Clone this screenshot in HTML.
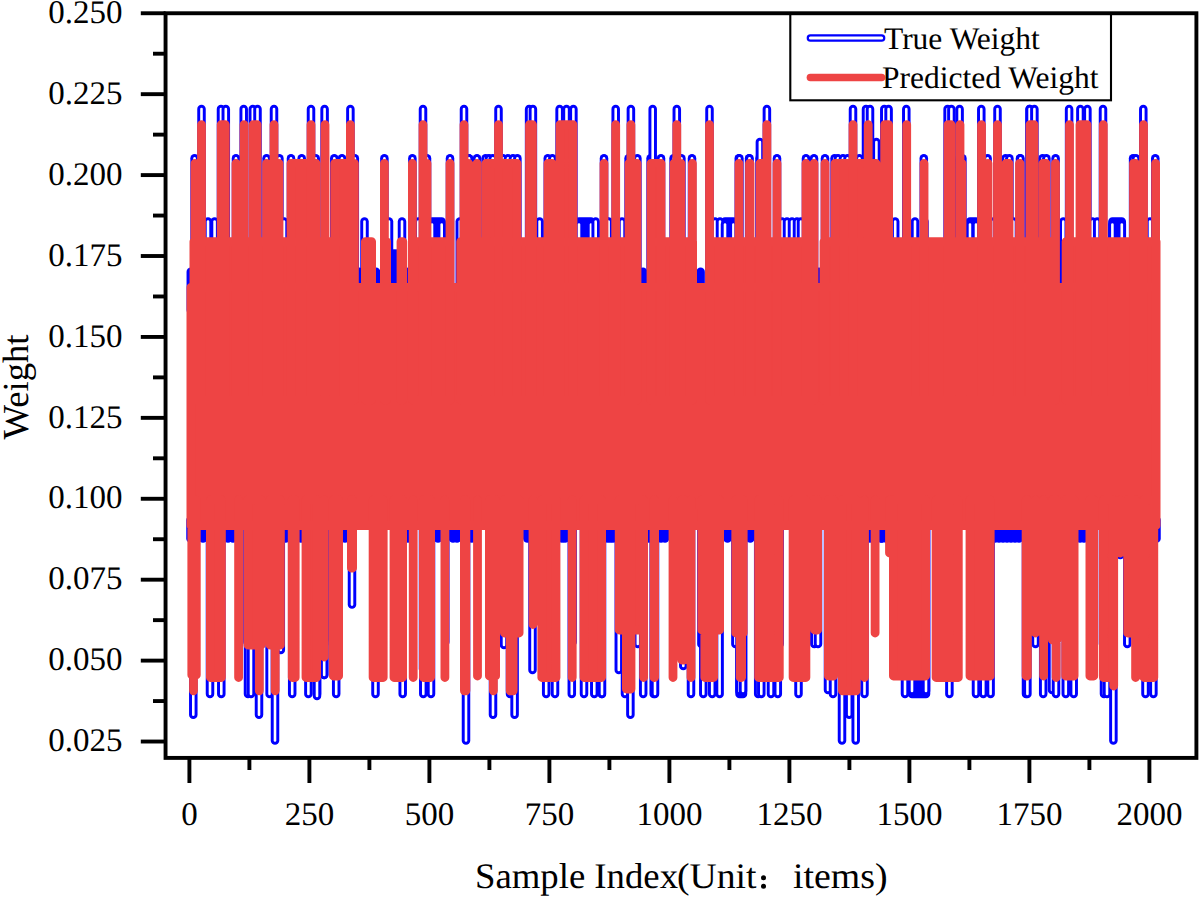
<!DOCTYPE html>
<html><head><meta charset="utf-8"><style>
html,body{margin:0;padding:0;background:#fff;width:1200px;height:898px;overflow:hidden}
svg{display:block}
text{font-family:"Liberation Serif",serif;fill:#000;text-rendering:geometricPrecision}
.tl{font-size:33px}
.lg{font-size:31.5px}
.tt{font-size:36px}
</style></head><body>
<svg width="1200" height="898" viewBox="0 0 1200 898">
<rect width="1200" height="898" fill="#fff"/>
<g fill="none" stroke-linecap="round"><path d="M432.0 310V221.5H441.7V310Z" fill="#0000ff" stroke="#0000ff" stroke-width="8.5" stroke-linejoin="round"/><path d="M579.0 310V221.5H591.0V310Z" fill="#0000ff" stroke="#0000ff" stroke-width="8.5" stroke-linejoin="round"/><path d="M725.0 310V221.5H733.4V310Z" fill="#0000ff" stroke="#0000ff" stroke-width="8.5" stroke-linejoin="round"/><path d="M970.0 310V221.5H976.0V310Z" fill="#0000ff" stroke="#0000ff" stroke-width="8.5" stroke-linejoin="round"/><path d="M1112.4 310V221.5H1121.8V310Z" fill="#0000ff" stroke="#0000ff" stroke-width="8.5" stroke-linejoin="round"/><path d="M739.5 500V694.0H743.0V500Z" fill="#0000ff" stroke="#0000ff" stroke-width="8.5" stroke-linejoin="round"/><path d="M912.0 500V694.0H926.0V500Z" fill="#0000ff" stroke="#0000ff" stroke-width="8.5" stroke-linejoin="round"/><path d="M190.5 520V538.5" stroke="#0000ff" stroke-width="8.5"/><path d="M190.8 310V271.8" stroke="#0000ff" stroke-width="8.5"/><path d="M193.3 500V714.7" stroke="#0000ff" stroke-width="8.5"/><path d="M193.3 500V714.7" stroke="#fff" stroke-width="2.6"/><path d="M194.6 310V158.3" stroke="#0000ff" stroke-width="8.5"/><path d="M194.6 310V158.3" stroke="#fff" stroke-width="2.6"/><path d="M201.5 310V109.0" stroke="#0000ff" stroke-width="8.5"/><path d="M201.5 310V109.0" stroke="#fff" stroke-width="2.6"/><path d="M203.0 520V538.5" stroke="#0000ff" stroke-width="8.5"/><path d="M208.0 310V221.5" stroke="#0000ff" stroke-width="8.5"/><path d="M208.0 310V221.5" stroke="#fff" stroke-width="2.6"/><path d="M210.0 500V694.0" stroke="#0000ff" stroke-width="8.5"/><path d="M210.0 500V694.0" stroke="#fff" stroke-width="2.6"/><path d="M214.6 310V221.5" stroke="#0000ff" stroke-width="8.5"/><path d="M214.6 310V221.5" stroke="#fff" stroke-width="2.6"/><path d="M221.0 310V109.0" stroke="#0000ff" stroke-width="8.5"/><path d="M221.0 310V109.0" stroke="#fff" stroke-width="2.6"/><path d="M221.3 500V694.0" stroke="#0000ff" stroke-width="8.5"/><path d="M221.3 500V694.0" stroke="#fff" stroke-width="2.6"/><path d="M225.8 310V109.0" stroke="#0000ff" stroke-width="8.5"/><path d="M225.8 310V109.0" stroke="#fff" stroke-width="2.6"/><path d="M228.0 520V538.5" stroke="#0000ff" stroke-width="8.5"/><path d="M233.0 520V538.5" stroke="#0000ff" stroke-width="8.5"/><path d="M236.0 310V158.3" stroke="#0000ff" stroke-width="8.5"/><path d="M236.0 310V158.3" stroke="#fff" stroke-width="2.6"/><path d="M243.7 310V109.0" stroke="#0000ff" stroke-width="8.5"/><path d="M243.7 310V109.0" stroke="#fff" stroke-width="2.6"/><path d="M247.5 500V642.0" stroke="#0000ff" stroke-width="8.5"/><path d="M247.5 500V642.0" stroke="#fff" stroke-width="2.6"/><path d="M248.0 500V694.0" stroke="#0000ff" stroke-width="8.5"/><path d="M248.0 500V694.0" stroke="#fff" stroke-width="2.6"/><path d="M251.0 500V694.0" stroke="#0000ff" stroke-width="8.5"/><path d="M251.0 500V694.0" stroke="#fff" stroke-width="2.6"/><path d="M252.8 310V109.0" stroke="#0000ff" stroke-width="8.5"/><path d="M252.8 310V109.0" stroke="#fff" stroke-width="2.6"/><path d="M257.5 310V109.0" stroke="#0000ff" stroke-width="8.5"/><path d="M257.5 310V109.0" stroke="#fff" stroke-width="2.6"/><path d="M259.0 500V714.7" stroke="#0000ff" stroke-width="8.5"/><path d="M259.0 500V714.7" stroke="#fff" stroke-width="2.6"/><path d="M266.6 310V158.3" stroke="#0000ff" stroke-width="8.5"/><path d="M266.6 310V158.3" stroke="#fff" stroke-width="2.6"/><path d="M269.6 500V694.0" stroke="#0000ff" stroke-width="8.5"/><path d="M269.6 500V694.0" stroke="#fff" stroke-width="2.6"/><path d="M274.0 310V109.0" stroke="#0000ff" stroke-width="8.5"/><path d="M274.0 310V109.0" stroke="#fff" stroke-width="2.6"/><path d="M275.0 500V740.4" stroke="#0000ff" stroke-width="8.5"/><path d="M275.0 500V740.4" stroke="#fff" stroke-width="2.6"/><path d="M279.4 310V158.3" stroke="#0000ff" stroke-width="8.5"/><path d="M279.4 310V158.3" stroke="#fff" stroke-width="2.6"/><path d="M280.8 500V650.0" stroke="#0000ff" stroke-width="8.5"/><path d="M280.8 500V650.0" stroke="#fff" stroke-width="2.6"/><path d="M284.0 310V221.5" stroke="#0000ff" stroke-width="8.5"/><path d="M284.0 310V221.5" stroke="#fff" stroke-width="2.6"/><path d="M285.7 520V538.5" stroke="#0000ff" stroke-width="8.5"/><path d="M291.0 310V158.3" stroke="#0000ff" stroke-width="8.5"/><path d="M291.0 310V158.3" stroke="#fff" stroke-width="2.6"/><path d="M292.2 500V694.0" stroke="#0000ff" stroke-width="8.5"/><path d="M292.2 500V694.0" stroke="#fff" stroke-width="2.6"/><path d="M301.0 520V538.5" stroke="#0000ff" stroke-width="8.5"/><path d="M301.7 310V158.3" stroke="#0000ff" stroke-width="8.5"/><path d="M301.7 310V158.3" stroke="#fff" stroke-width="2.6"/><path d="M308.4 500V694.0" stroke="#0000ff" stroke-width="8.5"/><path d="M308.4 500V694.0" stroke="#fff" stroke-width="2.6"/><path d="M311.0 310V109.0" stroke="#0000ff" stroke-width="8.5"/><path d="M311.0 310V109.0" stroke="#fff" stroke-width="2.6"/><path d="M315.7 310V158.3" stroke="#0000ff" stroke-width="8.5"/><path d="M315.7 310V158.3" stroke="#fff" stroke-width="2.6"/><path d="M317.0 500V694.0" stroke="#0000ff" stroke-width="8.5"/><path d="M317.0 500V694.0" stroke="#fff" stroke-width="2.6"/><path d="M317.0 500V696.0" stroke="#0000ff" stroke-width="8.5"/><path d="M317.0 500V696.0" stroke="#fff" stroke-width="2.6"/><path d="M324.2 500V640.0" stroke="#0000ff" stroke-width="8.5"/><path d="M324.2 500V640.0" stroke="#fff" stroke-width="2.6"/><path d="M324.2 500V675.0" stroke="#0000ff" stroke-width="8.5"/><path d="M324.2 500V675.0" stroke="#fff" stroke-width="2.6"/><path d="M324.2 500V675.0" stroke="#0000ff" stroke-width="8.5"/><path d="M324.2 500V675.0" stroke="#fff" stroke-width="2.6"/><path d="M324.6 310V109.0" stroke="#0000ff" stroke-width="8.5"/><path d="M324.6 310V109.0" stroke="#fff" stroke-width="2.6"/><path d="M329.4 310V271.8" stroke="#0000ff" stroke-width="8.5"/><path d="M332.9 500V644.0" stroke="#0000ff" stroke-width="8.5"/><path d="M332.9 500V644.0" stroke="#fff" stroke-width="2.6"/><path d="M334.3 310V158.3" stroke="#0000ff" stroke-width="8.5"/><path d="M334.3 310V158.3" stroke="#fff" stroke-width="2.6"/><path d="M336.2 500V694.0" stroke="#0000ff" stroke-width="8.5"/><path d="M336.2 500V694.0" stroke="#fff" stroke-width="2.6"/><path d="M342.0 310V158.3" stroke="#0000ff" stroke-width="8.5"/><path d="M342.0 310V158.3" stroke="#fff" stroke-width="2.6"/><path d="M345.0 520V538.5" stroke="#0000ff" stroke-width="8.5"/><path d="M350.4 310V109.0" stroke="#0000ff" stroke-width="8.5"/><path d="M350.4 310V109.0" stroke="#fff" stroke-width="2.6"/><path d="M352.0 500V604.6" stroke="#0000ff" stroke-width="8.5"/><path d="M352.0 500V604.6" stroke="#fff" stroke-width="2.6"/><path d="M354.8 310V158.3" stroke="#0000ff" stroke-width="8.5"/><path d="M354.8 310V158.3" stroke="#fff" stroke-width="2.6"/><path d="M359.0 310V271.8" stroke="#0000ff" stroke-width="8.5"/><path d="M364.5 310V221.5" stroke="#0000ff" stroke-width="8.5"/><path d="M364.5 310V221.5" stroke="#fff" stroke-width="2.6"/><path d="M375.5 500V694.0" stroke="#0000ff" stroke-width="8.5"/><path d="M375.5 500V694.0" stroke="#fff" stroke-width="2.6"/><path d="M376.0 310V271.8" stroke="#0000ff" stroke-width="8.5"/><path d="M384.4 310V158.3" stroke="#0000ff" stroke-width="8.5"/><path d="M384.4 310V158.3" stroke="#fff" stroke-width="2.6"/><path d="M389.0 310V221.5" stroke="#0000ff" stroke-width="8.5"/><path d="M389.0 310V221.5" stroke="#fff" stroke-width="2.6"/><path d="M393.0 310V253.5" stroke="#0000ff" stroke-width="8.5"/><path d="M396.0 310V253.5" stroke="#0000ff" stroke-width="8.5"/><path d="M402.0 310V221.5" stroke="#0000ff" stroke-width="8.5"/><path d="M402.0 310V221.5" stroke="#fff" stroke-width="2.6"/><path d="M402.7 500V694.0" stroke="#0000ff" stroke-width="8.5"/><path d="M402.7 500V694.0" stroke="#fff" stroke-width="2.6"/><path d="M406.6 310V271.8" stroke="#0000ff" stroke-width="8.5"/><path d="M408.0 520V538.5" stroke="#0000ff" stroke-width="8.5"/><path d="M412.4 310V158.3" stroke="#0000ff" stroke-width="8.5"/><path d="M412.4 310V158.3" stroke="#fff" stroke-width="2.6"/><path d="M418.3 310V221.5" stroke="#0000ff" stroke-width="8.5"/><path d="M418.3 310V221.5" stroke="#fff" stroke-width="2.6"/><path d="M423.0 310V109.0" stroke="#0000ff" stroke-width="8.5"/><path d="M423.0 310V109.0" stroke="#fff" stroke-width="2.6"/><path d="M423.0 500V669.0" stroke="#0000ff" stroke-width="8.5"/><path d="M423.0 500V669.0" stroke="#fff" stroke-width="2.6"/><path d="M423.3 500V694.0" stroke="#0000ff" stroke-width="8.5"/><path d="M423.3 500V694.0" stroke="#fff" stroke-width="2.6"/><path d="M427.0 310V158.3" stroke="#0000ff" stroke-width="8.5"/><path d="M427.0 310V158.3" stroke="#fff" stroke-width="2.6"/><path d="M431.0 500V694.0" stroke="#0000ff" stroke-width="8.5"/><path d="M431.0 500V694.0" stroke="#fff" stroke-width="2.6"/><path d="M432.0 310V224.5" stroke="#0000ff" stroke-width="8.5"/><path d="M432.0 310V224.5" stroke="#fff" stroke-width="2.6"/><path d="M438.0 520V538.5" stroke="#0000ff" stroke-width="8.5"/><path d="M441.7 310V224.5" stroke="#0000ff" stroke-width="8.5"/><path d="M441.7 310V224.5" stroke="#fff" stroke-width="2.6"/><path d="M445.3 500V642.0" stroke="#0000ff" stroke-width="8.5"/><path d="M445.3 500V642.0" stroke="#fff" stroke-width="2.6"/><path d="M450.0 310V158.3" stroke="#0000ff" stroke-width="8.5"/><path d="M450.0 310V158.3" stroke="#fff" stroke-width="2.6"/><path d="M453.0 520V538.5" stroke="#0000ff" stroke-width="8.5"/><path d="M457.0 520V538.5" stroke="#0000ff" stroke-width="8.5"/><path d="M459.8 310V221.5" stroke="#0000ff" stroke-width="8.5"/><path d="M459.8 310V221.5" stroke="#fff" stroke-width="2.6"/><path d="M464.0 310V109.0" stroke="#0000ff" stroke-width="8.5"/><path d="M464.0 310V109.0" stroke="#fff" stroke-width="2.6"/><path d="M466.0 500V740.4" stroke="#0000ff" stroke-width="8.5"/><path d="M466.0 500V740.4" stroke="#fff" stroke-width="2.6"/><path d="M468.6 310V158.3" stroke="#0000ff" stroke-width="8.5"/><path d="M468.6 310V158.3" stroke="#fff" stroke-width="2.6"/><path d="M469.0 310V158.3" stroke="#0000ff" stroke-width="8.5"/><path d="M469.0 310V158.3" stroke="#fff" stroke-width="2.6"/><path d="M471.8 520V538.5" stroke="#0000ff" stroke-width="8.5"/><path d="M477.0 310V158.3" stroke="#0000ff" stroke-width="8.5"/><path d="M477.0 310V158.3" stroke="#fff" stroke-width="2.6"/><path d="M485.6 310V158.3" stroke="#0000ff" stroke-width="8.5"/><path d="M485.6 310V158.3" stroke="#fff" stroke-width="2.6"/><path d="M489.0 310V158.3" stroke="#0000ff" stroke-width="8.5"/><path d="M489.0 310V158.3" stroke="#fff" stroke-width="2.6"/><path d="M492.8 310V158.3" stroke="#0000ff" stroke-width="8.5"/><path d="M492.8 310V158.3" stroke="#fff" stroke-width="2.6"/><path d="M493.0 500V714.7" stroke="#0000ff" stroke-width="8.5"/><path d="M493.0 500V714.7" stroke="#fff" stroke-width="2.6"/><path d="M498.5 310V109.0" stroke="#0000ff" stroke-width="8.5"/><path d="M498.5 310V109.0" stroke="#fff" stroke-width="2.6"/><path d="M503.0 310V158.3" stroke="#0000ff" stroke-width="8.5"/><path d="M503.0 310V158.3" stroke="#fff" stroke-width="2.6"/><path d="M504.0 500V645.0" stroke="#0000ff" stroke-width="8.5"/><path d="M504.0 500V645.0" stroke="#fff" stroke-width="2.6"/><path d="M508.0 310V158.3" stroke="#0000ff" stroke-width="8.5"/><path d="M508.0 310V158.3" stroke="#fff" stroke-width="2.6"/><path d="M510.0 500V694.0" stroke="#0000ff" stroke-width="8.5"/><path d="M510.0 500V694.0" stroke="#fff" stroke-width="2.6"/><path d="M513.0 310V158.3" stroke="#0000ff" stroke-width="8.5"/><path d="M513.0 310V158.3" stroke="#fff" stroke-width="2.6"/><path d="M514.6 500V714.7" stroke="#0000ff" stroke-width="8.5"/><path d="M514.6 500V714.7" stroke="#fff" stroke-width="2.6"/><path d="M517.4 310V158.3" stroke="#0000ff" stroke-width="8.5"/><path d="M517.4 310V158.3" stroke="#fff" stroke-width="2.6"/><path d="M527.3 520V538.5" stroke="#0000ff" stroke-width="8.5"/><path d="M529.1 310V109.0" stroke="#0000ff" stroke-width="8.5"/><path d="M529.1 310V109.0" stroke="#fff" stroke-width="2.6"/><path d="M532.5 500V670.0" stroke="#0000ff" stroke-width="8.5"/><path d="M532.5 500V670.0" stroke="#fff" stroke-width="2.6"/><path d="M532.9 310V109.0" stroke="#0000ff" stroke-width="8.5"/><path d="M532.9 310V109.0" stroke="#fff" stroke-width="2.6"/><path d="M539.6 310V221.5" stroke="#0000ff" stroke-width="8.5"/><path d="M539.6 310V221.5" stroke="#fff" stroke-width="2.6"/><path d="M546.2 500V694.0" stroke="#0000ff" stroke-width="8.5"/><path d="M546.2 500V694.0" stroke="#fff" stroke-width="2.6"/><path d="M547.8 310V158.3" stroke="#0000ff" stroke-width="8.5"/><path d="M547.8 310V158.3" stroke="#fff" stroke-width="2.6"/><path d="M552.4 310V158.3" stroke="#0000ff" stroke-width="8.5"/><path d="M552.4 310V158.3" stroke="#fff" stroke-width="2.6"/><path d="M555.0 500V694.0" stroke="#0000ff" stroke-width="8.5"/><path d="M555.0 500V694.0" stroke="#fff" stroke-width="2.6"/><path d="M559.6 310V109.0" stroke="#0000ff" stroke-width="8.5"/><path d="M559.6 310V109.0" stroke="#fff" stroke-width="2.6"/><path d="M562.0 520V538.5" stroke="#0000ff" stroke-width="8.5"/><path d="M565.0 520V538.5" stroke="#0000ff" stroke-width="8.5"/><path d="M566.5 310V109.0" stroke="#0000ff" stroke-width="8.5"/><path d="M566.5 310V109.0" stroke="#fff" stroke-width="2.6"/><path d="M571.8 500V694.0" stroke="#0000ff" stroke-width="8.5"/><path d="M571.8 500V694.0" stroke="#fff" stroke-width="2.6"/><path d="M572.6 500V642.0" stroke="#0000ff" stroke-width="8.5"/><path d="M572.6 500V642.0" stroke="#fff" stroke-width="2.6"/><path d="M573.4 310V109.0" stroke="#0000ff" stroke-width="8.5"/><path d="M573.4 310V109.0" stroke="#fff" stroke-width="2.6"/><path d="M579.0 310V224.5" stroke="#0000ff" stroke-width="8.5"/><path d="M579.0 310V224.5" stroke="#fff" stroke-width="2.6"/><path d="M584.0 500V694.0" stroke="#0000ff" stroke-width="8.5"/><path d="M584.0 500V694.0" stroke="#fff" stroke-width="2.6"/><path d="M591.0 310V224.5" stroke="#0000ff" stroke-width="8.5"/><path d="M591.0 310V224.5" stroke="#fff" stroke-width="2.6"/><path d="M594.3 500V694.0" stroke="#0000ff" stroke-width="8.5"/><path d="M594.3 500V694.0" stroke="#fff" stroke-width="2.6"/><path d="M595.7 310V221.5" stroke="#0000ff" stroke-width="8.5"/><path d="M595.7 310V221.5" stroke="#fff" stroke-width="2.6"/><path d="M601.7 500V694.0" stroke="#0000ff" stroke-width="8.5"/><path d="M601.7 500V694.0" stroke="#fff" stroke-width="2.6"/><path d="M602.0 500V694.0" stroke="#0000ff" stroke-width="8.5"/><path d="M602.0 500V694.0" stroke="#fff" stroke-width="2.6"/><path d="M604.0 310V158.3" stroke="#0000ff" stroke-width="8.5"/><path d="M604.0 310V158.3" stroke="#fff" stroke-width="2.6"/><path d="M607.0 310V221.5" stroke="#0000ff" stroke-width="8.5"/><path d="M607.0 310V221.5" stroke="#fff" stroke-width="2.6"/><path d="M607.6 520V538.5" stroke="#0000ff" stroke-width="8.5"/><path d="M608.6 310V221.5" stroke="#0000ff" stroke-width="8.5"/><path d="M608.6 310V221.5" stroke="#fff" stroke-width="2.6"/><path d="M610.3 520V538.5" stroke="#0000ff" stroke-width="8.5"/><path d="M613.0 520V538.5" stroke="#0000ff" stroke-width="8.5"/><path d="M615.7 310V109.0" stroke="#0000ff" stroke-width="8.5"/><path d="M615.7 310V109.0" stroke="#fff" stroke-width="2.6"/><path d="M618.8 500V670.0" stroke="#0000ff" stroke-width="8.5"/><path d="M618.8 500V670.0" stroke="#fff" stroke-width="2.6"/><path d="M622.0 310V221.5" stroke="#0000ff" stroke-width="8.5"/><path d="M622.0 310V221.5" stroke="#fff" stroke-width="2.6"/><path d="M625.0 500V694.0" stroke="#0000ff" stroke-width="8.5"/><path d="M625.0 500V694.0" stroke="#fff" stroke-width="2.6"/><path d="M628.6 310V158.3" stroke="#0000ff" stroke-width="8.5"/><path d="M628.6 310V158.3" stroke="#fff" stroke-width="2.6"/><path d="M630.4 500V714.7" stroke="#0000ff" stroke-width="8.5"/><path d="M630.4 500V714.7" stroke="#fff" stroke-width="2.6"/><path d="M630.9 310V109.0" stroke="#0000ff" stroke-width="8.5"/><path d="M630.9 310V109.0" stroke="#fff" stroke-width="2.6"/><path d="M637.4 310V158.3" stroke="#0000ff" stroke-width="8.5"/><path d="M637.4 310V158.3" stroke="#fff" stroke-width="2.6"/><path d="M637.8 500V644.0" stroke="#0000ff" stroke-width="8.5"/><path d="M637.8 500V644.0" stroke="#fff" stroke-width="2.6"/><path d="M643.0 310V271.8" stroke="#0000ff" stroke-width="8.5"/><path d="M643.2 500V694.0" stroke="#0000ff" stroke-width="8.5"/><path d="M643.2 500V694.0" stroke="#fff" stroke-width="2.6"/><path d="M648.7 520V538.5" stroke="#0000ff" stroke-width="8.5"/><path d="M650.6 310V158.3" stroke="#0000ff" stroke-width="8.5"/><path d="M650.6 310V158.3" stroke="#fff" stroke-width="2.6"/><path d="M652.7 310V109.0" stroke="#0000ff" stroke-width="8.5"/><path d="M652.7 310V109.0" stroke="#fff" stroke-width="2.6"/><path d="M653.7 500V694.0" stroke="#0000ff" stroke-width="8.5"/><path d="M653.7 500V694.0" stroke="#fff" stroke-width="2.6"/><path d="M655.0 500V694.0" stroke="#0000ff" stroke-width="8.5"/><path d="M655.0 500V694.0" stroke="#fff" stroke-width="2.6"/><path d="M661.0 310V158.3" stroke="#0000ff" stroke-width="8.5"/><path d="M661.0 310V158.3" stroke="#fff" stroke-width="2.6"/><path d="M661.0 520V538.5" stroke="#0000ff" stroke-width="8.5"/><path d="M665.0 520V538.5" stroke="#0000ff" stroke-width="8.5"/><path d="M673.6 310V158.3" stroke="#0000ff" stroke-width="8.5"/><path d="M673.6 310V158.3" stroke="#fff" stroke-width="2.6"/><path d="M676.8 310V109.0" stroke="#0000ff" stroke-width="8.5"/><path d="M676.8 310V109.0" stroke="#fff" stroke-width="2.6"/><path d="M681.4 310V158.3" stroke="#0000ff" stroke-width="8.5"/><path d="M681.4 310V158.3" stroke="#fff" stroke-width="2.6"/><path d="M683.3 500V666.0" stroke="#0000ff" stroke-width="8.5"/><path d="M683.3 500V666.0" stroke="#fff" stroke-width="2.6"/><path d="M691.0 500V694.0" stroke="#0000ff" stroke-width="8.5"/><path d="M691.0 500V694.0" stroke="#fff" stroke-width="2.6"/><path d="M692.0 310V158.3" stroke="#0000ff" stroke-width="8.5"/><path d="M692.0 310V158.3" stroke="#fff" stroke-width="2.6"/><path d="M700.6 310V271.8" stroke="#0000ff" stroke-width="8.5"/><path d="M701.4 500V644.0" stroke="#0000ff" stroke-width="8.5"/><path d="M701.4 500V644.0" stroke="#fff" stroke-width="2.6"/><path d="M703.3 500V694.0" stroke="#0000ff" stroke-width="8.5"/><path d="M703.3 500V694.0" stroke="#fff" stroke-width="2.6"/><path d="M709.5 310V109.0" stroke="#0000ff" stroke-width="8.5"/><path d="M709.5 310V109.0" stroke="#fff" stroke-width="2.6"/><path d="M712.2 500V694.0" stroke="#0000ff" stroke-width="8.5"/><path d="M712.2 500V694.0" stroke="#fff" stroke-width="2.6"/><path d="M715.0 310V221.5" stroke="#0000ff" stroke-width="8.5"/><path d="M715.0 310V221.5" stroke="#fff" stroke-width="2.6"/><path d="M719.6 500V694.0" stroke="#0000ff" stroke-width="8.5"/><path d="M719.6 500V694.0" stroke="#fff" stroke-width="2.6"/><path d="M720.0 310V221.5" stroke="#0000ff" stroke-width="8.5"/><path d="M720.0 310V221.5" stroke="#fff" stroke-width="2.6"/><path d="M725.0 310V224.5" stroke="#0000ff" stroke-width="8.5"/><path d="M725.0 310V224.5" stroke="#fff" stroke-width="2.6"/><path d="M727.5 520V538.5" stroke="#0000ff" stroke-width="8.5"/><path d="M733.4 310V224.5" stroke="#0000ff" stroke-width="8.5"/><path d="M733.4 310V224.5" stroke="#fff" stroke-width="2.6"/><path d="M735.4 500V644.0" stroke="#0000ff" stroke-width="8.5"/><path d="M735.4 500V644.0" stroke="#fff" stroke-width="2.6"/><path d="M738.8 310V158.3" stroke="#0000ff" stroke-width="8.5"/><path d="M738.8 310V158.3" stroke="#fff" stroke-width="2.6"/><path d="M739.4 310V158.3" stroke="#0000ff" stroke-width="8.5"/><path d="M739.4 310V158.3" stroke="#fff" stroke-width="2.6"/><path d="M739.5 500V691.0" stroke="#0000ff" stroke-width="8.5"/><path d="M739.5 500V691.0" stroke="#fff" stroke-width="2.6"/><path d="M743.0 500V691.0" stroke="#0000ff" stroke-width="8.5"/><path d="M743.0 500V691.0" stroke="#fff" stroke-width="2.6"/><path d="M749.1 310V158.3" stroke="#0000ff" stroke-width="8.5"/><path d="M749.1 310V158.3" stroke="#fff" stroke-width="2.6"/><path d="M749.5 310V158.3" stroke="#0000ff" stroke-width="8.5"/><path d="M749.5 310V158.3" stroke="#fff" stroke-width="2.6"/><path d="M750.3 520V538.5" stroke="#0000ff" stroke-width="8.5"/><path d="M758.2 500V694.0" stroke="#0000ff" stroke-width="8.5"/><path d="M758.2 500V694.0" stroke="#fff" stroke-width="2.6"/><path d="M759.6 310V158.3" stroke="#0000ff" stroke-width="8.5"/><path d="M759.6 310V158.3" stroke="#fff" stroke-width="2.6"/><path d="M759.9 310V142.0" stroke="#0000ff" stroke-width="8.5"/><path d="M759.9 310V142.0" stroke="#fff" stroke-width="2.6"/><path d="M761.3 500V694.0" stroke="#0000ff" stroke-width="8.5"/><path d="M761.3 500V694.0" stroke="#fff" stroke-width="2.6"/><path d="M766.9 310V109.0" stroke="#0000ff" stroke-width="8.5"/><path d="M766.9 310V109.0" stroke="#fff" stroke-width="2.6"/><path d="M771.0 500V694.0" stroke="#0000ff" stroke-width="8.5"/><path d="M771.0 500V694.0" stroke="#fff" stroke-width="2.6"/><path d="M777.0 310V158.3" stroke="#0000ff" stroke-width="8.5"/><path d="M777.0 310V158.3" stroke="#fff" stroke-width="2.6"/><path d="M777.8 500V694.0" stroke="#0000ff" stroke-width="8.5"/><path d="M777.8 500V694.0" stroke="#fff" stroke-width="2.6"/><path d="M779.7 500V644.0" stroke="#0000ff" stroke-width="8.5"/><path d="M779.7 500V644.0" stroke="#fff" stroke-width="2.6"/><path d="M782.0 310V221.5" stroke="#0000ff" stroke-width="8.5"/><path d="M782.0 310V221.5" stroke="#fff" stroke-width="2.6"/><path d="M787.0 310V221.5" stroke="#0000ff" stroke-width="8.5"/><path d="M787.0 310V221.5" stroke="#fff" stroke-width="2.6"/><path d="M792.0 310V221.5" stroke="#0000ff" stroke-width="8.5"/><path d="M792.0 310V221.5" stroke="#fff" stroke-width="2.6"/><path d="M797.0 310V221.5" stroke="#0000ff" stroke-width="8.5"/><path d="M797.0 310V221.5" stroke="#fff" stroke-width="2.6"/><path d="M798.5 500V694.0" stroke="#0000ff" stroke-width="8.5"/><path d="M798.5 500V694.0" stroke="#fff" stroke-width="2.6"/><path d="M801.0 310V221.5" stroke="#0000ff" stroke-width="8.5"/><path d="M801.0 310V221.5" stroke="#fff" stroke-width="2.6"/><path d="M806.0 310V158.3" stroke="#0000ff" stroke-width="8.5"/><path d="M806.0 310V158.3" stroke="#fff" stroke-width="2.6"/><path d="M814.0 310V158.3" stroke="#0000ff" stroke-width="8.5"/><path d="M814.0 310V158.3" stroke="#fff" stroke-width="2.6"/><path d="M814.3 500V644.0" stroke="#0000ff" stroke-width="8.5"/><path d="M814.3 500V644.0" stroke="#fff" stroke-width="2.6"/><path d="M818.0 500V644.0" stroke="#0000ff" stroke-width="8.5"/><path d="M818.0 500V644.0" stroke="#fff" stroke-width="2.6"/><path d="M819.0 310V271.8" stroke="#0000ff" stroke-width="8.5"/><path d="M825.0 310V158.3" stroke="#0000ff" stroke-width="8.5"/><path d="M825.0 310V158.3" stroke="#fff" stroke-width="2.6"/><path d="M828.0 500V690.0" stroke="#0000ff" stroke-width="8.5"/><path d="M828.0 500V690.0" stroke="#fff" stroke-width="2.6"/><path d="M833.0 500V694.0" stroke="#0000ff" stroke-width="8.5"/><path d="M833.0 500V694.0" stroke="#fff" stroke-width="2.6"/><path d="M834.6 310V158.3" stroke="#0000ff" stroke-width="8.5"/><path d="M834.6 310V158.3" stroke="#fff" stroke-width="2.6"/><path d="M838.0 310V158.3" stroke="#0000ff" stroke-width="8.5"/><path d="M838.0 310V158.3" stroke="#fff" stroke-width="2.6"/><path d="M842.0 500V740.4" stroke="#0000ff" stroke-width="8.5"/><path d="M842.0 500V740.4" stroke="#fff" stroke-width="2.6"/><path d="M843.0 310V158.3" stroke="#0000ff" stroke-width="8.5"/><path d="M843.0 310V158.3" stroke="#fff" stroke-width="2.6"/><path d="M847.6 310V158.3" stroke="#0000ff" stroke-width="8.5"/><path d="M847.6 310V158.3" stroke="#fff" stroke-width="2.6"/><path d="M849.2 500V714.7" stroke="#0000ff" stroke-width="8.5"/><path d="M849.2 500V714.7" stroke="#fff" stroke-width="2.6"/><path d="M853.0 310V109.0" stroke="#0000ff" stroke-width="8.5"/><path d="M853.0 310V109.0" stroke="#fff" stroke-width="2.6"/><path d="M855.7 500V740.4" stroke="#0000ff" stroke-width="8.5"/><path d="M855.7 500V740.4" stroke="#fff" stroke-width="2.6"/><path d="M859.4 310V158.3" stroke="#0000ff" stroke-width="8.5"/><path d="M859.4 310V158.3" stroke="#fff" stroke-width="2.6"/><path d="M864.5 500V694.0" stroke="#0000ff" stroke-width="8.5"/><path d="M864.5 500V694.0" stroke="#fff" stroke-width="2.6"/><path d="M866.0 310V109.0" stroke="#0000ff" stroke-width="8.5"/><path d="M866.0 310V109.0" stroke="#fff" stroke-width="2.6"/><path d="M870.0 310V109.0" stroke="#0000ff" stroke-width="8.5"/><path d="M870.0 310V109.0" stroke="#fff" stroke-width="2.6"/><path d="M870.0 520V538.5" stroke="#0000ff" stroke-width="8.5"/><path d="M876.4 310V142.0" stroke="#0000ff" stroke-width="8.5"/><path d="M876.4 310V142.0" stroke="#fff" stroke-width="2.6"/><path d="M881.0 520V538.5" stroke="#0000ff" stroke-width="8.5"/><path d="M882.0 520V538.5" stroke="#0000ff" stroke-width="8.5"/><path d="M884.3 310V109.0" stroke="#0000ff" stroke-width="8.5"/><path d="M884.3 310V109.0" stroke="#fff" stroke-width="2.6"/><path d="M886.0 520V538.5" stroke="#0000ff" stroke-width="8.5"/><path d="M888.6 310V109.0" stroke="#0000ff" stroke-width="8.5"/><path d="M888.6 310V109.0" stroke="#fff" stroke-width="2.6"/><path d="M895.2 310V221.5" stroke="#0000ff" stroke-width="8.5"/><path d="M895.2 310V221.5" stroke="#fff" stroke-width="2.6"/><path d="M905.0 500V694.0" stroke="#0000ff" stroke-width="8.5"/><path d="M905.0 500V694.0" stroke="#fff" stroke-width="2.6"/><path d="M906.3 310V109.0" stroke="#0000ff" stroke-width="8.5"/><path d="M906.3 310V109.0" stroke="#fff" stroke-width="2.6"/><path d="M912.0 500V691.0" stroke="#0000ff" stroke-width="8.5"/><path d="M912.0 500V691.0" stroke="#fff" stroke-width="2.6"/><path d="M915.0 310V221.5" stroke="#0000ff" stroke-width="8.5"/><path d="M915.0 310V221.5" stroke="#fff" stroke-width="2.6"/><path d="M923.8 310V158.3" stroke="#0000ff" stroke-width="8.5"/><path d="M923.8 310V158.3" stroke="#fff" stroke-width="2.6"/><path d="M924.5 310V221.5" stroke="#0000ff" stroke-width="8.5"/><path d="M924.5 310V221.5" stroke="#fff" stroke-width="2.6"/><path d="M926.0 500V691.0" stroke="#0000ff" stroke-width="8.5"/><path d="M926.0 500V691.0" stroke="#fff" stroke-width="2.6"/><path d="M947.6 310V109.0" stroke="#0000ff" stroke-width="8.5"/><path d="M947.6 310V109.0" stroke="#fff" stroke-width="2.6"/><path d="M949.4 500V694.0" stroke="#0000ff" stroke-width="8.5"/><path d="M949.4 500V694.0" stroke="#fff" stroke-width="2.6"/><path d="M951.4 310V109.0" stroke="#0000ff" stroke-width="8.5"/><path d="M951.4 310V109.0" stroke="#fff" stroke-width="2.6"/><path d="M951.4 310V158.3" stroke="#0000ff" stroke-width="8.5"/><path d="M951.4 310V158.3" stroke="#fff" stroke-width="2.6"/><path d="M959.6 310V109.0" stroke="#0000ff" stroke-width="8.5"/><path d="M959.6 310V109.0" stroke="#fff" stroke-width="2.6"/><path d="M962.4 310V158.3" stroke="#0000ff" stroke-width="8.5"/><path d="M962.4 310V158.3" stroke="#fff" stroke-width="2.6"/><path d="M970.0 310V224.5" stroke="#0000ff" stroke-width="8.5"/><path d="M970.0 310V224.5" stroke="#fff" stroke-width="2.6"/><path d="M976.0 310V224.5" stroke="#0000ff" stroke-width="8.5"/><path d="M976.0 310V224.5" stroke="#fff" stroke-width="2.6"/><path d="M976.0 500V694.0" stroke="#0000ff" stroke-width="8.5"/><path d="M976.0 500V694.0" stroke="#fff" stroke-width="2.6"/><path d="M981.3 310V109.0" stroke="#0000ff" stroke-width="8.5"/><path d="M981.3 310V109.0" stroke="#fff" stroke-width="2.6"/><path d="M983.3 500V694.0" stroke="#0000ff" stroke-width="8.5"/><path d="M983.3 500V694.0" stroke="#fff" stroke-width="2.6"/><path d="M987.6 310V158.3" stroke="#0000ff" stroke-width="8.5"/><path d="M987.6 310V158.3" stroke="#fff" stroke-width="2.6"/><path d="M990.6 500V694.0" stroke="#0000ff" stroke-width="8.5"/><path d="M990.6 500V694.0" stroke="#fff" stroke-width="2.6"/><path d="M993.5 310V221.5" stroke="#0000ff" stroke-width="8.5"/><path d="M993.5 310V221.5" stroke="#fff" stroke-width="2.6"/><path d="M995.0 520V538.5" stroke="#0000ff" stroke-width="8.5"/><path d="M997.5 310V109.0" stroke="#0000ff" stroke-width="8.5"/><path d="M997.5 310V109.0" stroke="#fff" stroke-width="2.6"/><path d="M999.0 520V538.5" stroke="#0000ff" stroke-width="8.5"/><path d="M1003.0 520V538.5" stroke="#0000ff" stroke-width="8.5"/><path d="M1005.6 310V158.3" stroke="#0000ff" stroke-width="8.5"/><path d="M1005.6 310V158.3" stroke="#fff" stroke-width="2.6"/><path d="M1007.0 520V538.5" stroke="#0000ff" stroke-width="8.5"/><path d="M1009.4 310V158.3" stroke="#0000ff" stroke-width="8.5"/><path d="M1009.4 310V158.3" stroke="#fff" stroke-width="2.6"/><path d="M1011.0 520V538.5" stroke="#0000ff" stroke-width="8.5"/><path d="M1013.4 310V221.5" stroke="#0000ff" stroke-width="8.5"/><path d="M1013.4 310V221.5" stroke="#fff" stroke-width="2.6"/><path d="M1015.0 520V538.5" stroke="#0000ff" stroke-width="8.5"/><path d="M1019.0 520V538.5" stroke="#0000ff" stroke-width="8.5"/><path d="M1020.0 310V158.3" stroke="#0000ff" stroke-width="8.5"/><path d="M1020.0 310V158.3" stroke="#fff" stroke-width="2.6"/><path d="M1020.4 310V158.3" stroke="#0000ff" stroke-width="8.5"/><path d="M1020.4 310V158.3" stroke="#fff" stroke-width="2.6"/><path d="M1026.0 500V694.0" stroke="#0000ff" stroke-width="8.5"/><path d="M1026.0 500V694.0" stroke="#fff" stroke-width="2.6"/><path d="M1027.4 500V694.0" stroke="#0000ff" stroke-width="8.5"/><path d="M1027.4 500V694.0" stroke="#fff" stroke-width="2.6"/><path d="M1029.6 310V109.0" stroke="#0000ff" stroke-width="8.5"/><path d="M1029.6 310V109.0" stroke="#fff" stroke-width="2.6"/><path d="M1029.6 310V109.0" stroke="#0000ff" stroke-width="8.5"/><path d="M1029.6 310V109.0" stroke="#fff" stroke-width="2.6"/><path d="M1034.4 310V109.0" stroke="#0000ff" stroke-width="8.5"/><path d="M1034.4 310V109.0" stroke="#fff" stroke-width="2.6"/><path d="M1035.5 500V644.0" stroke="#0000ff" stroke-width="8.5"/><path d="M1035.5 500V644.0" stroke="#fff" stroke-width="2.6"/><path d="M1042.6 310V158.3" stroke="#0000ff" stroke-width="8.5"/><path d="M1042.6 310V158.3" stroke="#fff" stroke-width="2.6"/><path d="M1043.2 500V694.0" stroke="#0000ff" stroke-width="8.5"/><path d="M1043.2 500V694.0" stroke="#fff" stroke-width="2.6"/><path d="M1046.4 310V158.3" stroke="#0000ff" stroke-width="8.5"/><path d="M1046.4 310V158.3" stroke="#fff" stroke-width="2.6"/><path d="M1052.0 500V690.0" stroke="#0000ff" stroke-width="8.5"/><path d="M1052.0 500V690.0" stroke="#fff" stroke-width="2.6"/><path d="M1055.6 310V158.3" stroke="#0000ff" stroke-width="8.5"/><path d="M1055.6 310V158.3" stroke="#fff" stroke-width="2.6"/><path d="M1056.0 500V694.0" stroke="#0000ff" stroke-width="8.5"/><path d="M1056.0 500V694.0" stroke="#fff" stroke-width="2.6"/><path d="M1063.3 310V221.5" stroke="#0000ff" stroke-width="8.5"/><path d="M1063.3 310V221.5" stroke="#fff" stroke-width="2.6"/><path d="M1065.8 500V694.0" stroke="#0000ff" stroke-width="8.5"/><path d="M1065.8 500V694.0" stroke="#fff" stroke-width="2.6"/><path d="M1069.1 310V109.0" stroke="#0000ff" stroke-width="8.5"/><path d="M1069.1 310V109.0" stroke="#fff" stroke-width="2.6"/><path d="M1073.7 500V694.0" stroke="#0000ff" stroke-width="8.5"/><path d="M1073.7 500V694.0" stroke="#fff" stroke-width="2.6"/><path d="M1080.0 520V538.5" stroke="#0000ff" stroke-width="8.5"/><path d="M1080.4 310V109.0" stroke="#0000ff" stroke-width="8.5"/><path d="M1080.4 310V109.0" stroke="#fff" stroke-width="2.6"/><path d="M1084.0 520V538.5" stroke="#0000ff" stroke-width="8.5"/><path d="M1087.4 310V109.0" stroke="#0000ff" stroke-width="8.5"/><path d="M1087.4 310V109.0" stroke="#fff" stroke-width="2.6"/><path d="M1092.5 310V221.5" stroke="#0000ff" stroke-width="8.5"/><path d="M1092.5 310V221.5" stroke="#fff" stroke-width="2.6"/><path d="M1097.2 310V221.5" stroke="#0000ff" stroke-width="8.5"/><path d="M1097.2 310V221.5" stroke="#fff" stroke-width="2.6"/><path d="M1103.0 310V109.0" stroke="#0000ff" stroke-width="8.5"/><path d="M1103.0 310V109.0" stroke="#fff" stroke-width="2.6"/><path d="M1103.0 500V644.0" stroke="#0000ff" stroke-width="8.5"/><path d="M1103.0 500V644.0" stroke="#fff" stroke-width="2.6"/><path d="M1104.0 500V694.0" stroke="#0000ff" stroke-width="8.5"/><path d="M1104.0 500V694.0" stroke="#fff" stroke-width="2.6"/><path d="M1107.0 500V694.0" stroke="#0000ff" stroke-width="8.5"/><path d="M1107.0 500V694.0" stroke="#fff" stroke-width="2.6"/><path d="M1112.4 310V224.5" stroke="#0000ff" stroke-width="8.5"/><path d="M1112.4 310V224.5" stroke="#fff" stroke-width="2.6"/><path d="M1113.4 500V740.4" stroke="#0000ff" stroke-width="8.5"/><path d="M1113.4 500V740.4" stroke="#fff" stroke-width="2.6"/><path d="M1120.3 500V555.0" stroke="#0000ff" stroke-width="8.5"/><path d="M1120.3 500V555.0" stroke="#fff" stroke-width="2.6"/><path d="M1121.8 310V224.5" stroke="#0000ff" stroke-width="8.5"/><path d="M1121.8 310V224.5" stroke="#fff" stroke-width="2.6"/><path d="M1127.3 500V644.0" stroke="#0000ff" stroke-width="8.5"/><path d="M1127.3 500V644.0" stroke="#fff" stroke-width="2.6"/><path d="M1133.1 310V158.3" stroke="#0000ff" stroke-width="8.5"/><path d="M1133.1 310V158.3" stroke="#fff" stroke-width="2.6"/><path d="M1135.9 310V158.3" stroke="#0000ff" stroke-width="8.5"/><path d="M1135.9 310V158.3" stroke="#fff" stroke-width="2.6"/><path d="M1143.3 310V109.0" stroke="#0000ff" stroke-width="8.5"/><path d="M1143.3 310V109.0" stroke="#fff" stroke-width="2.6"/><path d="M1145.5 500V694.0" stroke="#0000ff" stroke-width="8.5"/><path d="M1145.5 500V694.0" stroke="#fff" stroke-width="2.6"/><path d="M1150.0 310V221.5" stroke="#0000ff" stroke-width="8.5"/><path d="M1150.0 310V221.5" stroke="#fff" stroke-width="2.6"/><path d="M1153.4 500V694.0" stroke="#0000ff" stroke-width="8.5"/><path d="M1153.4 500V694.0" stroke="#fff" stroke-width="2.6"/><path d="M1155.3 310V158.3" stroke="#0000ff" stroke-width="8.5"/><path d="M1155.3 310V158.3" stroke="#fff" stroke-width="2.6"/><path d="M1156.5 520V538.5" stroke="#0000ff" stroke-width="8.5"/></g><path d="M190.9 287.3H1156.1V525.5H190.9ZM193.9 400V241.6H354.2V400ZM365.4 400V241.6H371.6V400ZM384.4 400V241.6H386.6V400ZM402.8 400V241.6H401.0V400ZM413.4 400V241.6H449.6V400ZM460.7 400V241.6H636.6V400ZM651.2 400V241.6H692.6V400ZM709.7 400V241.6H812.6V400ZM824.0 400V241.6H1054.2V400ZM1066.1 400V241.6H1156.1V400ZM201.5 400V124.6M221.2 400V124.6H225.3V400ZM244.0 400V124.6M253.2 400V124.6H257.1V400ZM274.0 400V124.6M311.0 400V124.6M325.0 400V124.6M350.4 400V124.6M423.0 400V124.6M464.0 400V124.6M498.5 400V124.6M529.5 400V124.6H532.5V400ZM560.0 400V124.6H573.0V400ZM615.7 400V124.6M630.9 400V124.6M676.8 400V124.6M709.5 400V124.6M766.9 400V124.6M853.0 400V124.6M868.2 400V124.6M884.7 400V124.6H888.6V400ZM906.7 400V124.6M948.0 400V124.6H951.0V400ZM960.0 400V124.6M981.5 400V124.6M997.5 400V124.6M1030.0 400V124.6M1030.0 400V124.6H1034.0V400ZM1069.5 400V124.6M1080.0 400V124.6H1087.0V400ZM1103.3 400V124.6M1143.5 400V124.6M195.0 400V163.3M236.0 400V163.3M266.6 400V163.3M279.0 400V163.3M291.0 400V163.3H316.0V400ZM334.7 400V163.3H354.4V400ZM384.4 400V163.3M412.4 400V163.3M427.0 400V163.3M450.0 400V163.3M468.6 400V163.3M477.0 400V163.3M486.0 400V163.3H517.0V400ZM548.0 400V163.3H552.0V400ZM604.0 400V163.3M629.0 400V163.3H637.0V400ZM651.0 400V163.3H661.0V400ZM674.0 400V163.3H681.0V400ZM692.4 400V163.3M739.0 400V163.3M750.0 400V163.3M749.5 400V163.3M760.0 400V163.3H766.0V400ZM777.0 400V163.3M806.0 400V163.3M814.0 400V163.3M825.0 400V163.3M835.0 400V163.3H876.0V400ZM924.0 400V163.3M962.0 400V163.3M988.0 400V163.3M1006.0 400V163.3H1009.0V400ZM1019.5 400V163.3M1020.0 400V163.3M1043.0 400V163.3H1046.0V400ZM1055.5 400V163.3M1133.5 400V163.3H1135.5V400ZM1155.6 400V163.3M196.3 500V675.0H191.8V500ZM193.5 500V690.8M221.4 500V677.5H210.4V500ZM238.6 500V677.5M261.2 500V645.0H247.9V500ZM259.3 500V690.8M280.4 500V645.0H270.0V500ZM275.2 500V690.8M295.2 500V677.5H292.2V500ZM316.6 500V677.5H306.0V500ZM324.2 500V657.0M338.6 500V676.0H333.3V500ZM352.6 500V568.0H351.4V500ZM383.2 500V677.5H373.1V500ZM402.6 500V677.5H394.0V500ZM413.2 500V677.5M430.6 500V677.5H423.4V500ZM444.9 500V677.5M465.9 500V690.8H464.4V500ZM477.5 500V676.0M495.6 500V676.0H489.4V500ZM493.4 500V690.8M519.1 500V633.0H504.4V500ZM513.2 500V690.8H510.2V500ZM533.0 500V624.5M556.0 500V677.5H541.8V500ZM572.2 500V677.5M601.6 500V677.5H584.0V500ZM642.8 500V630.0H619.2V500ZM631.0 500V689.0H626.4V500ZM643.6 500V677.5M654.6 500V677.5H654.0V500ZM673.0 500V677.5M684.2 500V660.0H681.8V500ZM691.0 500V677.5M719.6 500V630.0H701.8V500ZM713.6 500V677.5H704.8V500ZM743.2 500V633.0H735.8V500ZM741.6 500V677.5H740.2V500ZM779.3 500V677.5H758.6V500ZM805.9 500V677.5H793.1V500ZM817.6 500V630.0H814.7V500ZM833.6 500V676.0H828.4V500ZM856.1 500V690.8H842.4V500ZM864.5 500V677.5M875.1 500V633.0M889.5 500V553.0M925.6 500V676.0H893.4V500ZM958.3 500V677.5H936.1V500ZM990.2 500V676.0H970.0V500ZM1027.4 500V676.0H1026.1V500ZM1035.5 500V633.0M1043.6 500V676.0M1056.9 500V640.0H1052.4V500ZM1056.2 500V677.5M1074.1 500V676.0H1065.7V500ZM1093.8 500V676.0H1089.9V500ZM1113.0 500V677.5H1103.4V500ZM1113.7 500V686.0M1120.3 500V553.0M1135.2 500V633.0H1127.7V500ZM1135.6 500V677.5M1153.8 500V677.5H1144.0V500Z" fill="#ee4444" stroke="#ee4444" stroke-width="8.8" stroke-linecap="round" stroke-linejoin="round"/>
<rect x="790.3" y="13.25" width="320.70000000000005" height="87.05" fill="#fff" stroke="#000" stroke-width="2.1"/><line x1="810.4" y1="38" x2="881.6" y2="38" stroke="#0000ff" stroke-width="7.5" stroke-linecap="round"/><line x1="810.4" y1="38" x2="881.6" y2="38" stroke="#fff" stroke-width="3" stroke-linecap="round"/><line x1="810.4" y1="77.5" x2="881.6" y2="77.5" stroke="#ee4444" stroke-width="7.5" stroke-linecap="round"/><text x="884" y="48.8" class="lg">True Weight</text><text x="882" y="87.6" class="lg">Predicted Weight</text>
<rect x="165.55" y="13.25" width="1030.8500000000001" height="744.65" fill="none" stroke="#000" stroke-width="3.9" stroke-linejoin="miter"/><line x1="140.8" y1="741.53" x2="165.55" y2="741.53" stroke="#000" stroke-width="3.9"/><line x1="153" y1="701.07" x2="165.55" y2="701.07" stroke="#000" stroke-width="3.9"/><line x1="140.8" y1="660.61" x2="165.55" y2="660.61" stroke="#000" stroke-width="3.9"/><line x1="153" y1="620.15" x2="165.55" y2="620.15" stroke="#000" stroke-width="3.9"/><line x1="140.8" y1="579.69" x2="165.55" y2="579.69" stroke="#000" stroke-width="3.9"/><line x1="153" y1="539.23" x2="165.55" y2="539.23" stroke="#000" stroke-width="3.9"/><line x1="140.8" y1="498.77" x2="165.55" y2="498.77" stroke="#000" stroke-width="3.9"/><line x1="153" y1="458.31" x2="165.55" y2="458.31" stroke="#000" stroke-width="3.9"/><line x1="140.8" y1="417.85" x2="165.55" y2="417.85" stroke="#000" stroke-width="3.9"/><line x1="153" y1="377.39" x2="165.55" y2="377.39" stroke="#000" stroke-width="3.9"/><line x1="140.8" y1="336.93" x2="165.55" y2="336.93" stroke="#000" stroke-width="3.9"/><line x1="153" y1="296.47" x2="165.55" y2="296.47" stroke="#000" stroke-width="3.9"/><line x1="140.8" y1="256.01" x2="165.55" y2="256.01" stroke="#000" stroke-width="3.9"/><line x1="153" y1="215.55" x2="165.55" y2="215.55" stroke="#000" stroke-width="3.9"/><line x1="140.8" y1="175.09" x2="165.55" y2="175.09" stroke="#000" stroke-width="3.9"/><line x1="153" y1="134.63" x2="165.55" y2="134.63" stroke="#000" stroke-width="3.9"/><line x1="140.8" y1="94.17" x2="165.55" y2="94.17" stroke="#000" stroke-width="3.9"/><line x1="153" y1="53.71" x2="165.55" y2="53.71" stroke="#000" stroke-width="3.9"/><line x1="140.8" y1="13.25" x2="165.55" y2="13.25" stroke="#000" stroke-width="3.9"/><line x1="189.40" y1="757.9" x2="189.40" y2="783" stroke="#000" stroke-width="3.9"/><line x1="249.40" y1="757.9" x2="249.40" y2="770" stroke="#000" stroke-width="3.9"/><line x1="309.40" y1="757.9" x2="309.40" y2="783" stroke="#000" stroke-width="3.9"/><line x1="369.40" y1="757.9" x2="369.40" y2="770" stroke="#000" stroke-width="3.9"/><line x1="429.40" y1="757.9" x2="429.40" y2="783" stroke="#000" stroke-width="3.9"/><line x1="489.40" y1="757.9" x2="489.40" y2="770" stroke="#000" stroke-width="3.9"/><line x1="549.40" y1="757.9" x2="549.40" y2="783" stroke="#000" stroke-width="3.9"/><line x1="609.40" y1="757.9" x2="609.40" y2="770" stroke="#000" stroke-width="3.9"/><line x1="669.40" y1="757.9" x2="669.40" y2="783" stroke="#000" stroke-width="3.9"/><line x1="729.40" y1="757.9" x2="729.40" y2="770" stroke="#000" stroke-width="3.9"/><line x1="789.40" y1="757.9" x2="789.40" y2="783" stroke="#000" stroke-width="3.9"/><line x1="849.40" y1="757.9" x2="849.40" y2="770" stroke="#000" stroke-width="3.9"/><line x1="909.40" y1="757.9" x2="909.40" y2="783" stroke="#000" stroke-width="3.9"/><line x1="969.40" y1="757.9" x2="969.40" y2="770" stroke="#000" stroke-width="3.9"/><line x1="1029.40" y1="757.9" x2="1029.40" y2="783" stroke="#000" stroke-width="3.9"/><line x1="1089.40" y1="757.9" x2="1089.40" y2="770" stroke="#000" stroke-width="3.9"/><line x1="1149.40" y1="757.9" x2="1149.40" y2="783" stroke="#000" stroke-width="3.9"/>
<text x="122.6" y="751.23" text-anchor="end" class="tl">0.025</text><text x="122.6" y="670.31" text-anchor="end" class="tl">0.050</text><text x="122.6" y="589.39" text-anchor="end" class="tl">0.075</text><text x="122.6" y="508.47" text-anchor="end" class="tl">0.100</text><text x="122.6" y="427.55" text-anchor="end" class="tl">0.125</text><text x="122.6" y="346.63" text-anchor="end" class="tl">0.150</text><text x="122.6" y="265.71" text-anchor="end" class="tl">0.175</text><text x="122.6" y="184.79" text-anchor="end" class="tl">0.200</text><text x="122.6" y="103.87" text-anchor="end" class="tl">0.225</text><text x="122.6" y="22.95" text-anchor="end" class="tl">0.250</text><text x="189.40" y="825" text-anchor="middle" class="tl">0</text><text x="309.40" y="825" text-anchor="middle" class="tl">250</text><text x="429.40" y="825" text-anchor="middle" class="tl">500</text><text x="549.40" y="825" text-anchor="middle" class="tl">750</text><text x="669.40" y="825" text-anchor="middle" class="tl">1000</text><text x="789.40" y="825" text-anchor="middle" class="tl">1250</text><text x="909.40" y="825" text-anchor="middle" class="tl">1500</text><text x="1029.40" y="825" text-anchor="middle" class="tl">1750</text><text x="1149.40" y="825" text-anchor="middle" class="tl">2000</text>
<text x="475" y="888" class="tt" textLength="203" lengthAdjust="spacingAndGlyphs">Sample Index</text><text x="677" y="888" class="tt" textLength="79.5" lengthAdjust="spacingAndGlyphs">(Unit</text><circle cx="763.5" cy="877.8" r="2.5"/><circle cx="763.5" cy="886.2" r="2.5"/><text x="793" y="888" class="tt" textLength="94.5" lengthAdjust="spacingAndGlyphs">items)</text><text transform="translate(27.8,387) rotate(-90)" text-anchor="middle" class="tt" style="font-size:36.7px">Weight</text>
</svg>
</body></html>
